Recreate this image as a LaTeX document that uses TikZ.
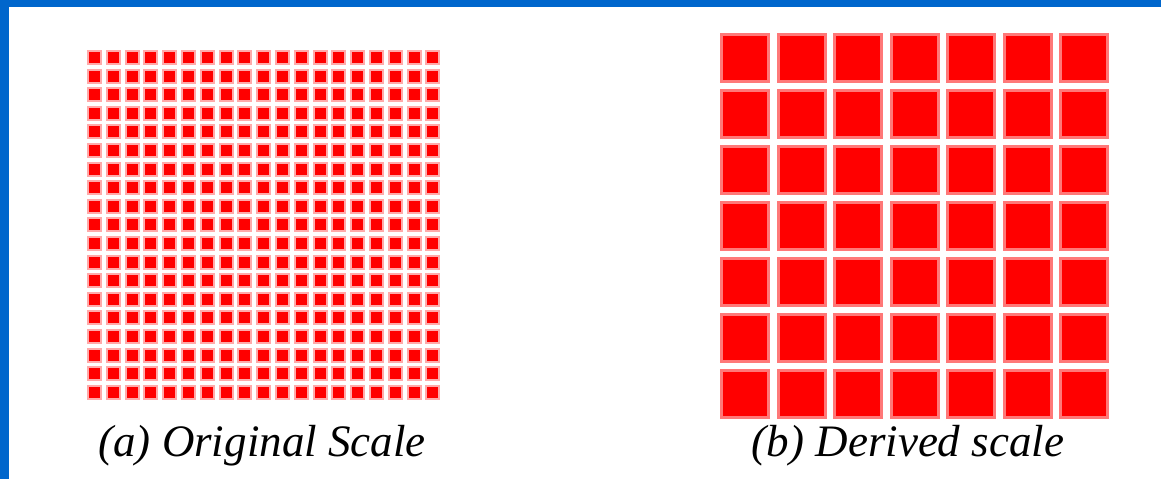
\documentclass[tikz,border=0pt]{standalone}
\usepackage{fontspec}
\setmainfont{Liberation Serif}
\usepackage{tikz}
\usetikzlibrary{positioning, calc}
\definecolor{frameblue}{RGB}{0, 102, 204}
\definecolor{halopink}{RGB}{255, 120, 120}
\definecolor{halolight}{RGB}{255, 170, 170}

\begin{document}
\begin{tikzpicture}[
        x=1pt, y=-1pt,
        % Small cells of the original scale
        fine_cell/.style={
            fill=red,
            draw=halolight,
            line width=2pt
        },
        % Large cells of the derived scale
        coarse_cell/.style={
            fill=red,
            draw=halopink,
            line width=3pt
        },
        % Italic captions under each grid
        caption/.style={
            font=\fontsize{45}{50}\selectfont\itshape,
            inner sep=0pt,
            anchor=base
        }
    ]

    \useasboundingbox (0,0) rectangle (1161,479);

    % 1. Blue frame (top and left edge)
    \fill[frameblue] (0,0) rectangle (1161,7);
    \fill[frameblue] (0,0) rectangle (9,479);

    % 2. Original scale: 19 x 19 cells
    \foreach \i in {0,...,18} {
        \foreach \j in {0,...,18} {
            \draw[fine_cell] ({88+18.8*\i},{51+18.6*\j}) rectangle ++(13,13);
        }
    }

    % 3. Derived scale: 7 x 7 cells
    \foreach \i in {0,...,6} {
        \foreach \j in {0,...,6} {
            \draw[coarse_cell] ({721.5+56.5*\i},{34.5+56*\j}) rectangle ++(47,47);
        }
    }

    % 4. Captions
    \coordinate (orig_base) at (262,456);
    \coordinate (derived_base) at (908,456);
    \node[caption] (cap_orig) at (orig_base) {(a) Original Scale};
    \node[caption] (cap_derived) at (derived_base) {(b) Derived scale};

\end{tikzpicture}
\end{document}
